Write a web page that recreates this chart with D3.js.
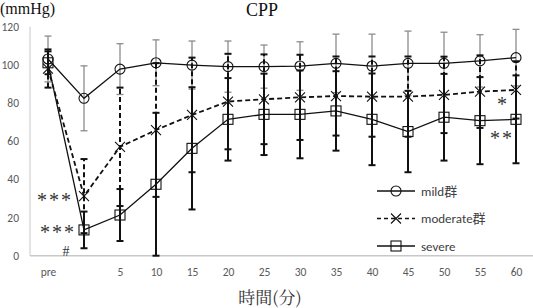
<!DOCTYPE html>
<html><head><meta charset="utf-8">
<script src="https://cdn.jsdelivr.net/npm/d3@7"></script>
<style>body{margin:0;background:#fff}svg{display:block}</style>
</head><body>
<script>
const categories = ["pre","","5","10","15","20","25","30","35","40","45","50","55","60"];
const yTicks = [0,20,40,60,80,100,120];
const mild = [103, 82.4, 97.7, 101, 99.8, 99, 99, 99.3, 100.7, 99.3, 100.7, 100.7, 102, 103.7];
const mildErr = [12, 17, 13.3, 12, 12.6, 13.4, 11.3, 12.7, 15.3, 16.7, 16.9, 16.3, 13.7, 14.8];
const moderate = [98, 31.2, 57, 65.8, 73.7, 80.7, 81.9, 82.9, 83.6, 83.3, 83.3, 84.2, 85.9, 86.8];
const moderateErr = [10, 19.4, 31, 35, 30, 25, 23.5, 22.3, 20.7, 21, 21, 20, 19, 15];
const severe = [101, 13.5, 21.3, 37.4, 56.2, 71.4, 74, 74, 75.8, 71.4, 65, 72.5, 70.7, 71.4];
const severeErr = [6, 9.6, 13.6, 37.4, 32, 21.6, 21.3, 23, 20.8, 24, 21.3, 22.7, 22.8, 23];
const seriesNames = ["mild群","moderate群","severe"];

const W = 533, H = 308;
const svg = d3.select("body").append("svg").attr("width", W).attr("height", H);
const x = d3.scalePoint().domain(categories).range([30, 534]).padding(0.5);
const y = d3.scaleLinear().domain([0, 120]).range([255.7, 26.5]);

// axes
const ya = svg.append("g").attr("transform", "translate(30,0)")
  .call(d3.axisLeft(y).tickValues(yTicks).tickSize(0).tickPadding(11));
ya.select(".domain").remove();
ya.selectAll("text").attr("fill", "#595959").style("font-family", "Carlito, 'Open Sans', sans-serif").style("font-size", "11.5px");
svg.append("line").attr("x1", 30).attr("x2", 30).attr("y1", y(120)).attr("y2", y(0)).attr("stroke", "#c8c8c8").attr("stroke-width", 1);

const xa = svg.append("g").attr("transform", `translate(0,${y(0)})`)
  .call(d3.axisBottom(x).tickSize(0).tickPadding(12));
xa.select(".domain").remove();
xa.selectAll("text").attr("fill", "#595959").style("font-family", "Carlito, 'Open Sans', sans-serif").style("font-size", "11.5px");
svg.append("line").attr("x1", 30).attr("x2", W).attr("y1", y(0)).attr("y2", y(0)).attr("stroke", "#c8c8c8").attr("stroke-width", 1.5);

// error bars
function errBars(vals, errs, color, width, dash) {
  const g = svg.append("g");
  categories.forEach((c, i) => {
    const cx = x(c), lo = Math.max(0, vals[i] - errs[i]), hi = vals[i] + errs[i];
    g.append("line").attr("x1", cx).attr("x2", cx).attr("y1", y(lo)).attr("y2", y(hi))
      .attr("stroke", color).attr("stroke-width", width).attr("stroke-dasharray", dash || null);
    [lo, hi].forEach(v => g.append("line").attr("x1", cx - 3.5).attr("x2", cx + 3.5)
      .attr("y1", y(v)).attr("y2", y(v)).attr("stroke", color).attr("stroke-width", width));
  });
}
errBars(mild, mildErr, "#8c8c8c", 1.3);
errBars(moderate, moderateErr, "#111", 2, "5,3");
errBars(severe, severeErr, "#111", 2);

// lines
const line = d3.line().x((d, i) => x(categories[i])).y(d => y(d));
svg.append("path").datum(mild).attr("d", line).attr("fill", "none").attr("stroke", "#111").attr("stroke-width", 1.3);
svg.append("path").datum(moderate).attr("d", line).attr("fill", "none").attr("stroke", "#111").attr("stroke-width", 1.8).attr("stroke-dasharray", "5,3");
svg.append("path").datum(severe).attr("d", line).attr("fill", "none").attr("stroke", "#111").attr("stroke-width", 1.3);

// markers
function circ(g, cx, cy) { g.append("circle").attr("cx", cx).attr("cy", cy).attr("r", 5).attr("fill", "none").attr("stroke", "#111").attr("stroke-width", 1.1); }
function cross(g, cx, cy) { const s = 5; g.append("path").attr("d", `M${cx-s},${cy-s}L${cx+s},${cy+s}M${cx-s},${cy+s}L${cx+s},${cy-s}`).attr("stroke", "#111").attr("stroke-width", 1.1); }
function sq(g, cx, cy) { g.append("rect").attr("x", cx - 5).attr("y", cy - 5).attr("width", 10).attr("height", 10).attr("fill", "none").attr("stroke", "#111").attr("stroke-width", 1.1); }
const mg = svg.append("g");
categories.forEach((c, i) => { circ(mg, x(c), y(mild[i])); cross(mg, x(c), y(moderate[i])); sq(mg, x(c), y(severe[i])); });

// legend
const markers = [circ, cross, sq];
const dashes = [null, "4,3", null];
seriesNames.forEach((n, i) => {
  const ly = 191 + i * 27.5;
  svg.append("line").attr("x1", 377).attr("x2", 415).attr("y1", ly).attr("y2", ly).attr("stroke", "#111").attr("stroke-width", 1.3).attr("stroke-dasharray", dashes[i]);
  markers[i](svg, 396, ly);
  svg.append("text").attr("x", 421).attr("y", ly + 4.5).text(n).attr("fill", "#404040")
    .style("font-family", "Carlito, 'Open Sans', 'Noto Sans CJK JP', sans-serif").style("font-size", "13px");
});

// titles
svg.append("text").attr("x", 262).attr("y", 16).attr("text-anchor", "middle").text("CPP")
  .style("font-family", "'Liberation Serif', serif").style("font-size", "18px").attr("fill", "#111");
svg.append("text").attr("x", 0).attr("y", 14).text("(mmHg)")
  .style("font-family", "'Liberation Serif', serif").style("font-size", "16px").attr("fill", "#111");
svg.append("text").attr("x", 270).attr("y", 304).attr("text-anchor", "middle").text("時間(分)")
  .style("font-family", "'Noto Serif CJK JP', 'Noto Sans CJK JP', sans-serif").style("font-size", "17px").attr("fill", "#333");

// significance marks
const ann = [["***", 55, 207, 20], ["***", 58, 239, 20], ["#", 66, 256, 14], ["*", 502, 111, 20], ["**", 502, 145, 20]];
ann.forEach(a => svg.append("text").attr("x", a[1]).attr("y", a[2]).attr("text-anchor", "middle").text(a[0])
  .style("font-family", "'Liberation Serif', serif").style("font-size", a[3] + "px").attr("fill", "#333").attr("letter-spacing", a[0].length > 1 ? "2px" : null));
</script>
</body></html>
